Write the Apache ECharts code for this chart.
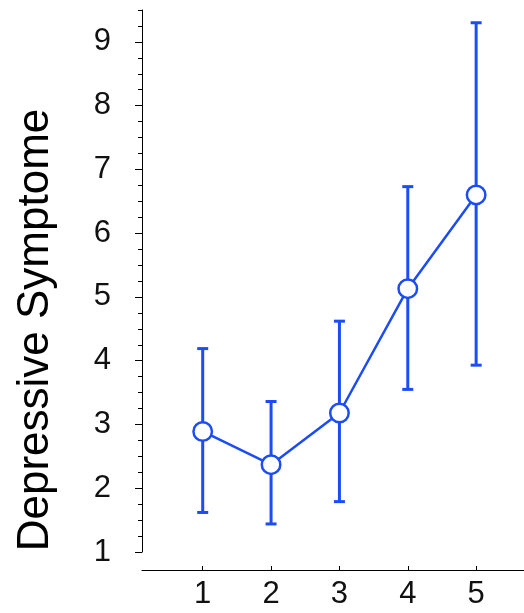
<!DOCTYPE html>
<html>
<head>
<meta charset="utf-8">
<script src="https://cdn.jsdelivr.net/npm/echarts@6/dist/echarts.min.js"></script>
<style>html,body{margin:0;padding:0;background:#fff}#c{width:524px;height:613px}</style>
</head>
<body>
<div id="c"></div>
<script>
var xValues = [1, 2, 3, 4, 5];
var means = [2.89, 2.37, 3.18, 5.13, 6.60];
var lowers = [1.62, 1.44, 1.79, 3.55, 3.93];
var uppers = [4.19, 3.36, 4.62, 6.73, 9.30];
var yTickLabels = [1, 2, 3, 4, 5, 6, 7, 8, 9];
var yMinorTicks = [1.25, 1.5, 1.75, 2.25, 2.5, 2.75, 3.25, 3.5, 3.75, 4.25, 4.5, 4.75, 5.25, 5.5, 5.75, 6.25, 6.5, 6.75, 7.25, 7.5, 7.75, 8.25, 8.5, 8.75, 9.25, 9.5];
var xTickLabels = [1, 2, 3, 4, 5];
var yTitle = 'Depressive Symptome';

var BLUE = '#1c4cf4';
var FONT = '"Liberation Sans", Arial, Helvetica, sans-serif';

var chart = echarts.init(document.getElementById('c'), null, {renderer: 'canvas'});

var meanData = xValues.map(function (x, i) { return [x, means[i]]; });
var errData = xValues.map(function (x, i) { return [x, lowers[i], uppers[i]]; });

var option = {
  animation: false,
  grid: {left: 142, right: 0, top: 10, bottom: 61, containLabel: false},
  xAxis: {
    type: 'value', min: 0.112, max: 5.7, offset: 18,
    splitLine: {show: false},
    axisLine: {show: true, lineStyle: {color: '#000', width: 1}},
    axisTick: {show: true, inside: true, length: 4, customValues: xTickLabels, lineStyle: {color: '#000'}},
    axisLabel: {show: true, customValues: xTickLabels, margin: 9, fontSize: 31, color: '#111', fontFamily: FONT}
  },
  yAxis: [{
    type: 'value', min: 1, max: 9.5,
    splitLine: {show: false},
    axisLine: {show: true, lineStyle: {color: '#000', width: 1}},
    axisTick: {show: true, length: 7, customValues: yTickLabels, lineStyle: {color: '#000'}},
    axisLabel: {show: true, customValues: yTickLabels, margin: 31, fontSize: 31, color: '#111', fontFamily: FONT}
  }, {
    type: 'value', min: 1, max: 9.5, position: 'left',
    splitLine: {show: false},
    axisLine: {show: false},
    axisTick: {show: true, length: 4, customValues: yMinorTicks, lineStyle: {color: '#000'}},
    axisLabel: {show: false}
  }],
  graphic: [{
    type: 'text', left: null, x: 36, y: 330, rotation: Math.PI / 2,
    style: {text: yTitle, font: '44px ' + FONT, fill: '#000', align: 'center', verticalAlign: 'middle'}
  }],
  series: [{
    type: 'custom',
    data: errData,
    z: 1,
    renderItem: function (params, api) {
      var x = api.value(0);
      var lo = api.coord([x, api.value(1)]);
      var hi = api.coord([x, api.value(2)]);
      var hw = 5.5;
      var st = {stroke: BLUE, lineWidth: 3};
      return {type: 'group', children: [
        {type: 'line', shape: {x1: lo[0], y1: lo[1], x2: hi[0], y2: hi[1]}, style: st},
        {type: 'line', shape: {x1: lo[0] - hw, y1: lo[1], x2: lo[0] + hw, y2: lo[1]}, style: st},
        {type: 'line', shape: {x1: hi[0] - hw, y1: hi[1], x2: hi[0] + hw, y2: hi[1]}, style: st}
      ]};
    }
  }, {
    type: 'line',
    data: meanData,
    z: 5,
    symbol: 'circle',
    symbolSize: 18.5,
    lineStyle: {color: BLUE, width: 2.5},
    itemStyle: {color: '#fff', borderColor: BLUE, borderWidth: 2.5}
  }]
};
chart.setOption(option);
</script>
</body>
</html>
